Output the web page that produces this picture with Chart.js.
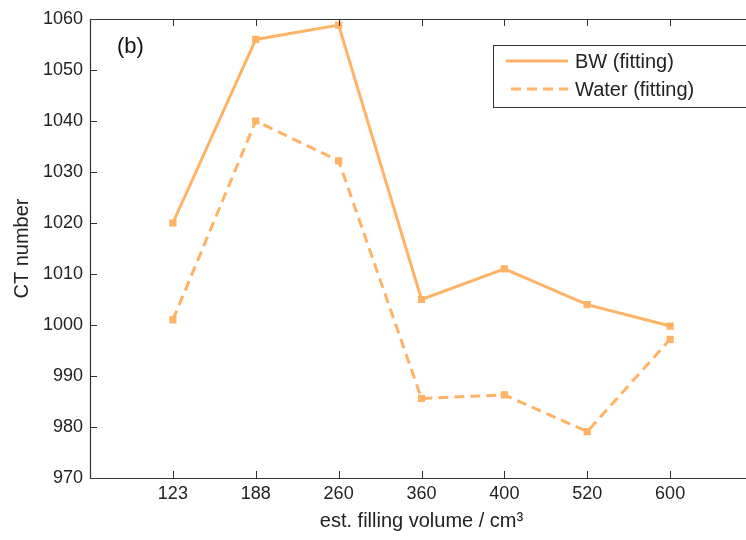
<!DOCTYPE html>
<html>
<head>
<meta charset="utf-8">
<script src="https://cdn.jsdelivr.net/npm/chart.js@4"></script>
<style>
  html, body { margin: 0; padding: 0; background: #fff; overflow: hidden; }
  #wrap { width: 760px; height: 540px; position: relative; }
</style>
</head>
<body>
<div id="wrap"><canvas id="myChart"></canvas></div>
<script>
const categories = ['123', '188', '260', '360', '400', '520', '600'];
const bwValues = [1020, 1056, 1058.8, 1005, 1011, 1004, 999.8];
const waterValues = [1001, 1040, 1032.2, 985.6, 986.3, 979.1, 997.2];
const yTicks = [970, 980, 990, 1000, 1010, 1020, 1030, 1040, 1050, 1060];

const orange = '#FFB366';
const font = 'Liberation Sans, Arial, sans-serif';

const toPoints = vals => vals.map((v, i) => ({ x: i + 1, y: v }));

// frame, inward ticks, legend box and panel label
const decorations = {
    id: 'decorations',
    afterDraw(chart) {
        const c = chart.ctx;
        const a = chart.chartArea;
        const xs = chart.scales.x, ys = chart.scales.y;
        c.save();
        c.strokeStyle = '#333';
        c.lineWidth = 1.2;
        c.beginPath();
        c.moveTo(a.right, a.top + 0.5);
        c.lineTo(a.left + 0.5, a.top + 0.5);
        c.lineTo(a.left + 0.5, a.bottom + 0.5);
        c.lineTo(a.right, a.bottom + 0.5);
        c.stroke();
        c.lineWidth = 1;
        c.beginPath();
        categories.forEach((_, i) => {
            const px = Math.round(xs.getPixelForValue(i + 1)) + 0.5;
            c.moveTo(px, a.bottom); c.lineTo(px, a.bottom - 7);
            c.moveTo(px, a.top); c.lineTo(px, a.top + 7);
        });
        yTicks.forEach(t => {
            const py = Math.round(ys.getPixelForValue(t)) + 0.5;
            c.moveTo(a.left, py); c.lineTo(a.left + 7, py);
        });
        c.stroke();

        // legend
        c.fillStyle = '#fff';
        c.fillRect(493, 45, 260, 62);
        c.strokeStyle = '#333';
        c.strokeRect(493.5, 45.5, 260, 62);
        chart.data.datasets.forEach((ds, i) => {
            const y = 61 + i * 28;
            c.strokeStyle = ds.borderColor;
            c.lineWidth = 3;
            c.setLineDash(ds.borderDash || []);
            c.beginPath();
            c.moveTo(ds.borderDash ? 511 : 506, y);
            c.lineTo(568, y);
            c.stroke();
            c.setLineDash([]);
            c.fillStyle = '#222';
            c.font = '20px ' + font;
            c.textBaseline = 'middle';
            c.fillText(ds.label, 575, y + 1);
        });

        c.fillStyle = '#111';
        c.font = '22px ' + font;
        c.textBaseline = 'middle';
        c.fillText('(b)', 117, 47);
        c.restore();
    }
};

const ctx = document.getElementById('myChart').getContext('2d');
const myChart = new Chart(ctx, {
    type: 'line',
    data: {
        datasets: [{
            label: 'BW (fitting)',
            data: toPoints(bwValues),
            borderColor: orange,
            backgroundColor: orange,
            borderWidth: 3,
            pointStyle: 'rect',
            pointRadius: 3,
            tension: 0
        }, {
            label: 'Water (fitting)',
            data: toPoints(waterValues),
            borderColor: orange,
            backgroundColor: orange,
            borderWidth: 3,
            borderDash: [10, 6],
            pointStyle: 'rect',
            pointRadius: 3,
            tension: 0
        }]
    },
    options: {
        responsive: true,
        maintainAspectRatio: false,
        animation: false,
        layout: { padding: { top: 19, right: 4, left: 0, bottom: 0 } },
        scales: {
            x: {
                type: 'linear',
                min: 0,
                max: 8,
                grid: { display: false, drawTicks: false },
                border: { display: false },
                ticks: {
                    stepSize: 1,
                    padding: 5,
                    color: '#222',
                    font: { family: font, size: 18 },
                    callback: v => categories[v - 1] || ''
                },
                title: {
                    display: true,
                    text: 'est. filling volume / cm³',
                    color: '#222',
                    font: { family: font, size: 20 },
                    padding: { top: 0, bottom: 7 }
                },
                afterFit: s => { s.height = 62; }
            },
            y: {
                min: 970,
                max: 1060,
                grid: { display: false, drawTicks: false },
                border: { display: false },
                ticks: {
                    stepSize: 10,
                    padding: 7,
                    color: '#222',
                    font: { family: font, size: 18 },
                    callback: v => String(v)
                },
                title: {
                    display: true,
                    text: 'CT number',
                    color: '#222',
                    font: { family: font, size: 20 },
                    padding: { top: 10, bottom: 0 }
                },
                afterFit: s => { s.width = 90; }
            }
        },
        plugins: {
            legend: { display: false },
            tooltip: { enabled: false }
        }
    },
    plugins: [decorations]
});
</script>
</body>
</html>
